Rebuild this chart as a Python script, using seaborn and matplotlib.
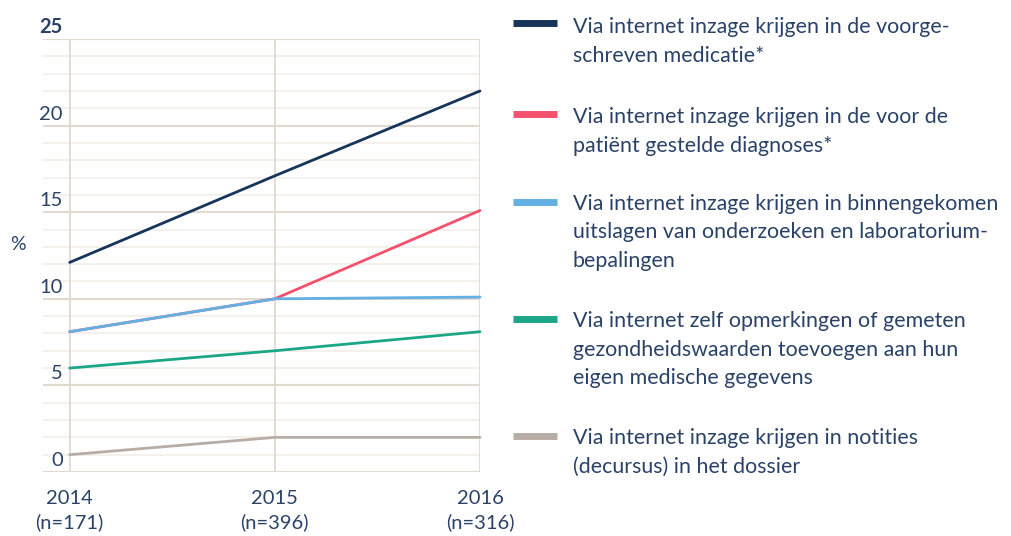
import matplotlib
matplotlib.use("Agg")
import matplotlib.pyplot as plt
import matplotlib.transforms as mtransforms
import seaborn as sns
import pandas as pd
from matplotlib.lines import Line2D

years = ["2014", "2015", "2016"]
x_labels = ["2014\n(n=171)", "2015\n(n=396)", "2016\n(n=316)"]
series_names = [
    "Via internet inzage krijgen in de voorge-\nschreven medicatie*",
    "Via internet inzage krijgen in de voor de\npatiënt gestelde diagnoses*",
    "Via internet inzage krijgen in binnengekomen\nuitslagen van onderzoeken en laboratorium-\nbepalingen",
    "Via internet zelf opmerkingen of gemeten\ngezondheidswaarden toevoegen aan hun\neigen medische gegevens",
    "Via internet inzage krijgen in notities\n(decursus) in het dossier",
]
medicatie = [12.1, 17.1, 22.0]
diagnoses = [8.1, 10.0, 15.1]
uitslagen = [8.1, 10.0, 10.1]
opmerkingen = [6.0, 7.0, 8.1]
notities = [1.0, 2.0, 2.0]
y_ticks = [0, 5, 10, 15, 20, 25]
colors = ["#173459", "#f4516c", "#62b0e4", "#1ba787", "#b8ada5"]

values = [medicatie, diagnoses, uitslagen, opmerkingen, notities]
rows = []
for name, vals in zip(series_names, values):
    for i, v in enumerate(vals):
        rows.append({"x": i, "value": v, "series": name})
df = pd.DataFrame(rows)

sns.set_theme(style="white")
plt.rcParams["font.family"] = ["Lato", "DejaVu Sans"]
text_color = "#2a4268"

W, H = 1011, 536
fig = plt.figure(figsize=(W / 100, H / 100), dpi=100)
ax = fig.add_axes([43 / W, 1 - 472 / H, (480 - 43) / W, (472 - 39) / H])

major_c = "#e2d9d0"
minor_c = "#f2ede9"
for v in range(0, 26):
    if v % 5 == 0:
        continue
    ax.axhline(v, color=minor_c, lw=1.2, zorder=0)
for v in y_ticks:
    ax.axhline(v, color=major_c, lw=1.5, zorder=0.5)
for i in range(3):
    ax.axvline(i, color=major_c, lw=1.3, zorder=0.5)

sns.lineplot(data=df, x="x", y="value", hue="series", hue_order=series_names,
             palette=dict(zip(series_names, colors)), linewidth=2.0,
             legend=False, ax=ax, clip_on=False, zorder=3)

ax.set_xlim(-0.13, 2.0)
ax.set_ylim(0, 25)
for s in ax.spines.values():
    s.set_visible(False)
ax.set_xlabel("")
ax.set_ylabel("")
ax.set_xticks(range(3))
ax.set_xticklabels(x_labels, fontsize=14.5, color=text_color, linespacing=1.4)
ax.set_yticks(y_ticks)
ax.set_yticklabels([])
ax.tick_params(axis="y", length=0)
ax.tick_params(axis="x", length=0, pad=13)

ytrans = mtransforms.offset_copy(ax.get_yaxis_transform(), fig=fig, x=0, y=6, units="dots")
for v in y_ticks:
    ax.text((63 - 43) / (480 - 43), v, str(v), transform=ytrans, ha="right", va="baseline",
            fontsize=14.5, color=text_color,
            fontweight="bold" if v == 25 else "normal")

fig.text(18 / W, 1 - 245 / H, "%", fontsize=14, color=text_color, ha="center", va="center")

handle_y = [23, 114, 202, 319, 436]
baseline_y = [33, 123, 210, 327, 444]
line_gap = 28.5
for name, c, hy, by in zip(series_names, colors, handle_y, baseline_y):
    fig.add_artist(Line2D([513 / W, 557 / W], [1 - hy / H, 1 - hy / H],
                          color=c, lw=5.0, solid_capstyle="butt",
                          transform=fig.transFigure))
    for k, line in enumerate(name.split("\n")):
        fig.text(573 / W, 1 - (by + k * line_gap) / H, line, fontsize=15.4,
                 color=text_color, ha="left", va="baseline")

fig.savefig("out.png", dpi=100)
